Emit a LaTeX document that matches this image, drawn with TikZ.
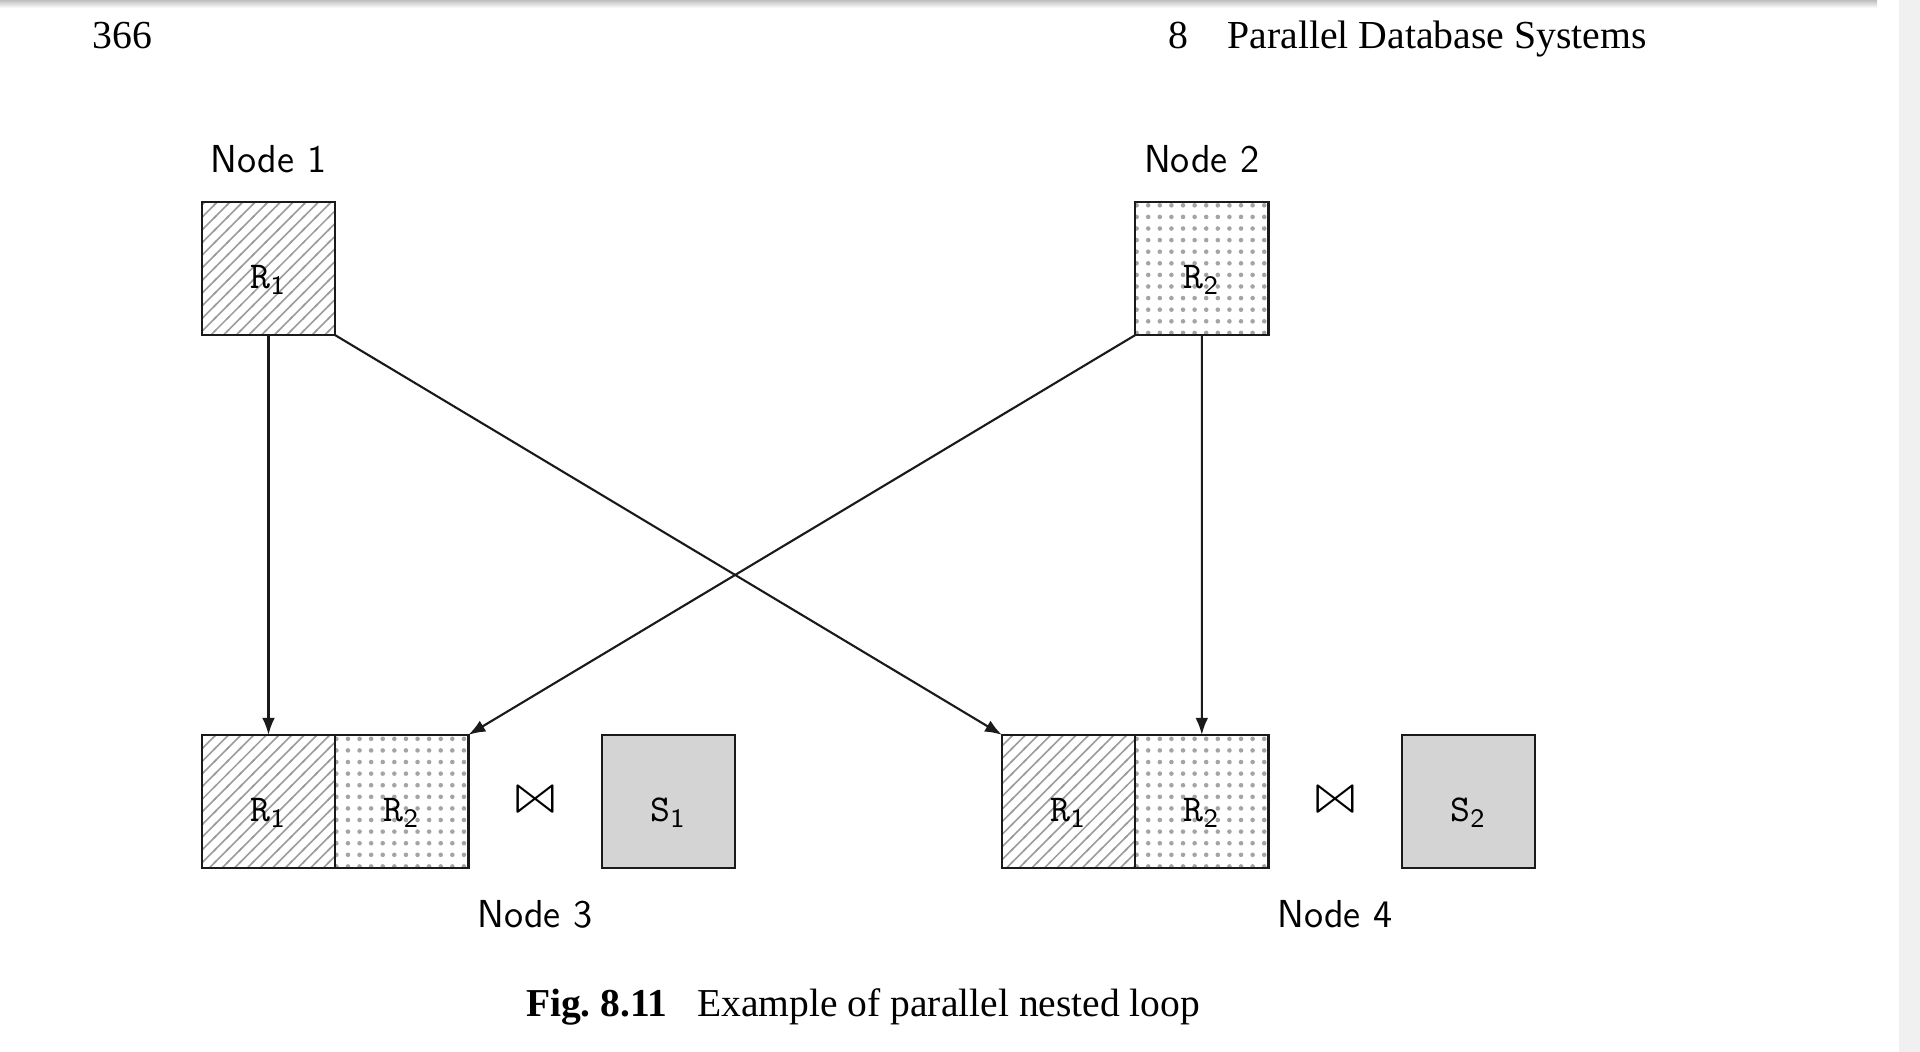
\documentclass[tikz,border=0pt]{standalone}
\usepackage{fontspec}
\usepackage{latexsym}
\usepackage{graphicx}
\newfontfamily\pagefont{Liberation Serif}
\usetikzlibrary{arrows.meta, positioning, calc, patterns, patterns.meta}
\definecolor{hatchGray}{HTML}{9c9c9c}
\definecolor{dotGray}{HTML}{a4a4a4}
\definecolor{relFill}{HTML}{d4d4d4}
\definecolor{pageBar}{HTML}{f0f0f0}
\definecolor{inkBlack}{HTML}{1a1a1a}
\def\cellS{1.333}
\def\pageW{19.2}
\def\pageH{10.52}
\def\topRow{-2.685}
\def\botRow{-8.015}
\def\groupShift{8.0}

% fill patterns for the two fragments of R
\tikzdeclarepattern{
  name=fragHatch, type=uncolored,
  bounding box={(-0.5pt,-0.5pt) and (4.1pt,4.1pt)},
  tile size={(3.6pt,3.6pt)},
  code={\draw[line width=0.45pt] (-0.5pt,-0.5pt) -- (4.1pt,4.1pt);}
}
\tikzdeclarepattern{
  name=fragDots, type=uncolored,
  bounding box={(-0.8pt,-0.8pt) and (0.8pt,0.8pt)},
  tile size={(3.3pt,3.3pt)},
  code={\fill (0pt,0pt) circle (0.65pt);}
}

\begin{document}
\begin{tikzpicture}[x=1cm, y=1cm,
                    font=\sffamily\fontsize{11.1}{13}\selectfont,
    cell/.style={draw=inkBlack, line width=0.7pt, minimum size=\cellS cm,
                 inner sep=0pt, outer sep=0pt, text height=0.4cm, text depth=0pt,
                 font=\sffamily\fontsize{10.8}{13}\selectfont},
    hatchcell/.style={cell, pattern=fragHatch, pattern color=hatchGray},
    dotcell/.style={cell, pattern=fragDots, pattern color=dotGray},
    relcell/.style={cell, fill=relFill},
    nodelabel/.style={inner sep=0pt, outer sep=0pt},
    joinsym/.style={inner sep=0pt, outer sep=0pt, yshift=-0.037cm},
    link/.style={draw=inkBlack, line width=0.6pt,
                 -{Latex[length=4.8pt, width=3.6pt]}}]

    % ==========================================================
    % 1. PAGE (size, top shadow, scroll bar)
    % ==========================================================
    \useasboundingbox (0,0) rectangle (\pageW,-\pageH);
    \fill[white] (0,0) rectangle (\pageW,-\pageH);
    \shade[top color=black!25, bottom color=white] (0,0) rectangle (18.77,-0.08);
    \fill[pageBar] (18.99,0) rectangle (\pageW,-\pageH);

    % running head
    \node[nodelabel, anchor=base west, font=\pagefont\fontsize{11.3}{13}\selectfont]
        (pageNo) at (0.93,-0.483) {366};
    \node[nodelabel, anchor=base west, font=\pagefont\fontsize{11.3}{13}\selectfont]
        (chapHead) at (11.68,-0.483) {8\quad Parallel Database Systems};

    % ==========================================================
    % 2. SOURCE NODES (top row)
    % ==========================================================
    \node[hatchcell] (srcR1) at (2.685,\topRow) {$\mathtt{R}_\mathsf{1}$};
    \node[dotcell]   (srcR2) at (2.685+\groupShift+\cellS,\topRow) {$\mathtt{R}_\mathsf{2}$};

    \node[nodelabel, above=0.29cm of srcR1] (lblN1) {Node 1};
    \node[nodelabel, above=0.29cm of srcR2] (lblN2) {Node 2};

    % ==========================================================
    % 3. JOIN NODES (bottom row)
    % ==========================================================
    % Node 3
    \node[hatchcell] (n3R1) at (2.685,\botRow) {$\mathtt{R}_\mathsf{1}$};
    \node[dotcell, right=0pt of n3R1] (n3R2) {$\mathtt{R}_\mathsf{2}$};
    \node[relcell, right=\cellS cm of n3R2] (n3S1) {$\mathtt{S}_\mathsf{1}$};
    \node[joinsym] (n3join) at ($(n3R2.east)!0.5!(n3S1.west)$)
        {\resizebox{0.449cm}{0.2135cm}{$\Join$}};
    \node[nodelabel, anchor=north] (lblN3)
        at ($(n3R2.east |- n3R2.south)!0.5!(n3S1.west |- n3S1.south)+(0,-0.32)$) {Node 3};

    % Node 4
    \node[hatchcell] (n4R1) at (2.685+\groupShift,\botRow) {$\mathtt{R}_\mathsf{1}$};
    \node[dotcell, right=0pt of n4R1] (n4R2) {$\mathtt{R}_\mathsf{2}$};
    \node[relcell, right=\cellS cm of n4R2] (n4S2) {$\mathtt{S}_\mathsf{2}$};
    \node[joinsym] (n4join) at ($(n4R2.east)!0.5!(n4S2.west)$)
        {\resizebox{0.449cm}{0.2135cm}{$\Join$}};
    \node[nodelabel, anchor=north] (lblN4)
        at ($(n4R2.east |- n4R2.south)!0.5!(n4S2.west |- n4S2.south)+(0,-0.32)$) {Node 4};

    % ==========================================================
    % 4. REDISTRIBUTION ARROWS
    % ==========================================================
    \draw[link] (srcR1.south) -- (n3R1.north);
    \draw[link] (srcR1.south east) -- (n4R1.north west);
    \draw[link] (srcR2.south west) -- (n3R2.north east);
    \draw[link] (srcR2.south) -- (n4R2.north);

    % ==========================================================
    % 5. CAPTION
    % ==========================================================
    \node[nodelabel, anchor=base west, font=\pagefont\fontsize{11.25}{13}\selectfont]
        (caption) at (5.26,-10.16)
        {\textbf{Fig.~8.11}\hspace{0.75em}Example of parallel nested loop};

\end{tikzpicture}
\end{document}
